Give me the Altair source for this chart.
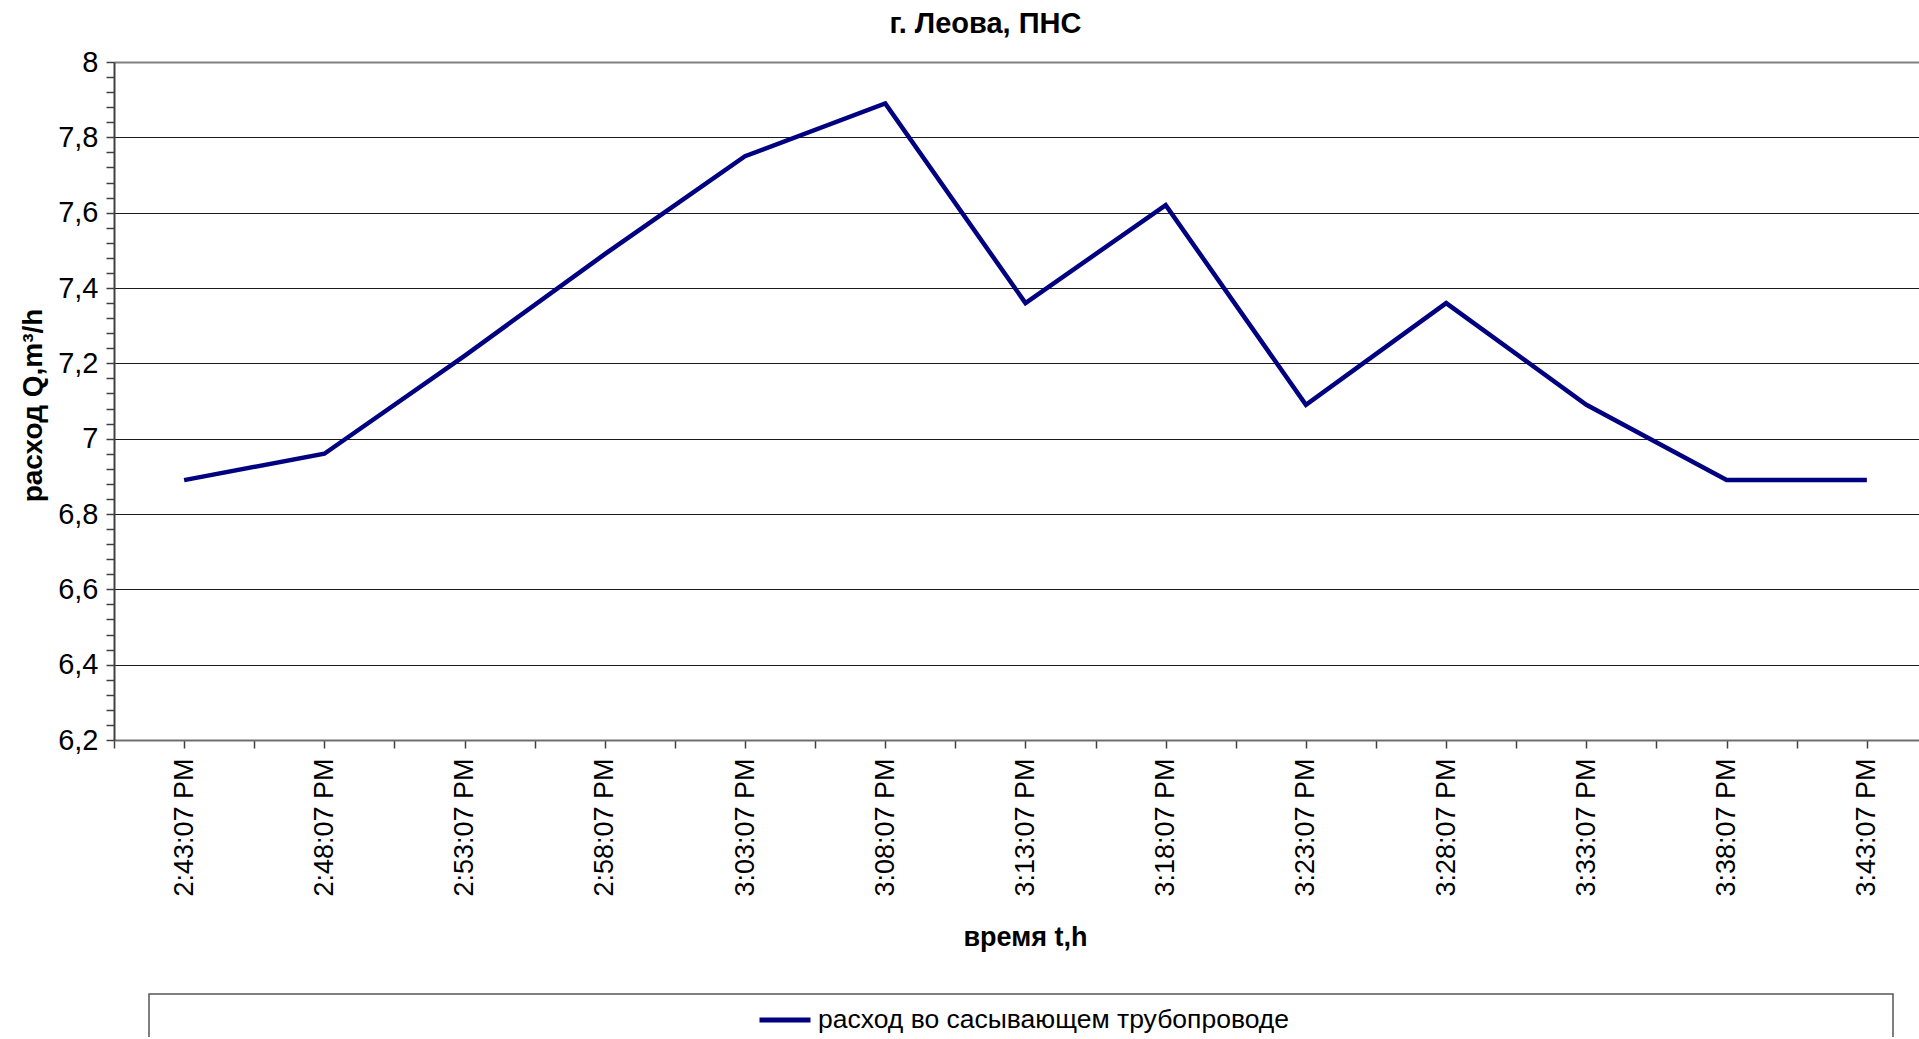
import json

import altair as alt
import pandas as pd

# Measurement times (x categories) and flow readings, m3/h
times = [
    "2:43:07 PM", "2:48:07 PM", "2:53:07 PM", "2:58:07 PM", "3:03:07 PM",
    "3:08:07 PM", "3:13:07 PM", "3:18:07 PM", "3:23:07 PM", "3:28:07 PM",
    "3:33:07 PM", "3:38:07 PM", "3:43:07 PM",
]
flow = [6.89, 6.96, 7.22, 7.49, 7.75, 7.89, 7.36, 7.62, 7.09, 7.36, 7.09, 6.89, 6.89]
series_name = "расход во сасывающем трубопроводе"

chart_title = "г. Леова, ПНС"
x_title = "время t,h"
y_title = "расход Q,m³/h"

FONT = "Liberation Sans"
LINE_COLOR = "#000080"

df = pd.DataFrame({
    "idx": list(range(len(times))),
    "time": times,
    "flow": flow,
    "series": [series_name] * len(times),
})

# y axis: a tick every 0.04, labelled and gridded every 0.2
y_ticks = [round(6.2 + 0.04 * i, 2) for i in range(46)]
major_test = "abs(datum.value * 5 - round(datum.value * 5)) < 1e-6"
y_label_expr = (
    f"{major_test} ? replace(format(datum.value, '.1~f'), '.', ',') : ''"
)

# x axis: categories at integer positions, ticks at centres and boundaries
x_ticks = [i * 0.5 - 0.5 for i in range(2 * len(times))]
x_label_expr = (
    f"datum.value % 1 === 0 ? {json.dumps(times, ensure_ascii=False)}[datum.value] : ''"
)

x_axis = alt.Axis(
    values=x_ticks,
    labelExpr=x_label_expr,
    labelAngle=-90,
    labelFont=FONT,
    labelFontSize=27,
    labelColor="#000000",
    labelPadding=10,
    labelOverlap=False,
    labelFlush=False,
    tickSize=8,
    tickColor="#404040",
    tickWidth=1.5,
    domainColor="#6e6e6e",
    domainWidth=2,
    grid=False,
    title=x_title,
    titleFont=FONT,
    titleFontSize=27,
    titleFontWeight="bold",
    titleColor="#000000",
    titleX=911,
    titleY=205,
    titleAlign="center",
    titleBaseline="alphabetic",
)

y_axis = alt.Axis(
    values=y_ticks,
    labelExpr=y_label_expr,
    labelFont=FONT,
    labelFontSize=29,
    labelColor="#000000",
    labelPadding=8,
    labelOverlap=False,
    labelFlush=False,
    tickSize=8,
    tickColor="#404040",
    tickWidth=1.5,
    domainColor="#404040",
    domainWidth=2,
    grid=True,
    gridOpacity={"condition": {"test": major_test, "value": 1}, "value": 0},
    gridColor={"condition": {"test": "datum.value > 7.99", "value": "#808080"}, "value": "#1a1a1a"},
    gridWidth={"condition": {"test": "datum.value > 7.99", "value": 2}, "value": 1},
    title=y_title,
    titleFont=FONT,
    titleFontSize=28,
    titleFontWeight="bold",
    titleColor="#000000",
    titleAngle=-90,
    titleX=-73,
    titleY=343,
    titleAlign="center",
    titleBaseline="alphabetic",
)

line = alt.Chart(df).mark_line(strokeWidth=4.5, strokeJoin="miter").encode(
    x=alt.X("idx:Q", axis=x_axis,
            scale=alt.Scale(domain=[-0.5, 12.372], nice=False, zero=False)),
    y=alt.Y("flow:Q", axis=y_axis,
            scale=alt.Scale(domain=[6.2, 8.0], nice=False, zero=False)),
    color=alt.Color(
        "series:N",
        scale=alt.Scale(domain=[series_name], range=[LINE_COLOR]),
        legend=alt.Legend(
            orient="none",
            legendX=643,
            legendY=930,
            title=None,
            symbolType="stroke",
            symbolSize=2600,
            symbolStrokeWidth=5,
            labelFont=FONT,
            labelFontSize=26.5,
            labelColor="#000000",
            labelOffset=5,
            labelLimit=1000,
            padding=0,
        ),
    ),
    order="idx:Q",
)

# frame around the legend
legend_frame = alt.Chart(alt.Data(values=[{}])).mark_rect(
    fill=None, stroke="#555555", strokeWidth=1.5
).encode(
    x=alt.value(35), x2=alt.value(1779),
    y=alt.value(932), y2=alt.value(1100),
)

chart = alt.layer(line, legend_frame).properties(
    width=1805,
    height=678,
    title=alt.TitleParams(
        text=chart_title,
        font=FONT,
        fontSize=29,
        fontWeight="bold",
        color="#000000",
        anchor="middle",
        frame="group",
        baseline="alphabetic",
        offset=-14,
        dx=-31,
    ),
    padding={"left": 114, "top": 62, "right": 0, "bottom": 297},
    autosize=alt.AutoSizeParams(type="none"),
    background="#ffffff",
).configure_view(stroke=None)

chart.save("out.html", embed_options={"renderer": "svg", "actions": False})
